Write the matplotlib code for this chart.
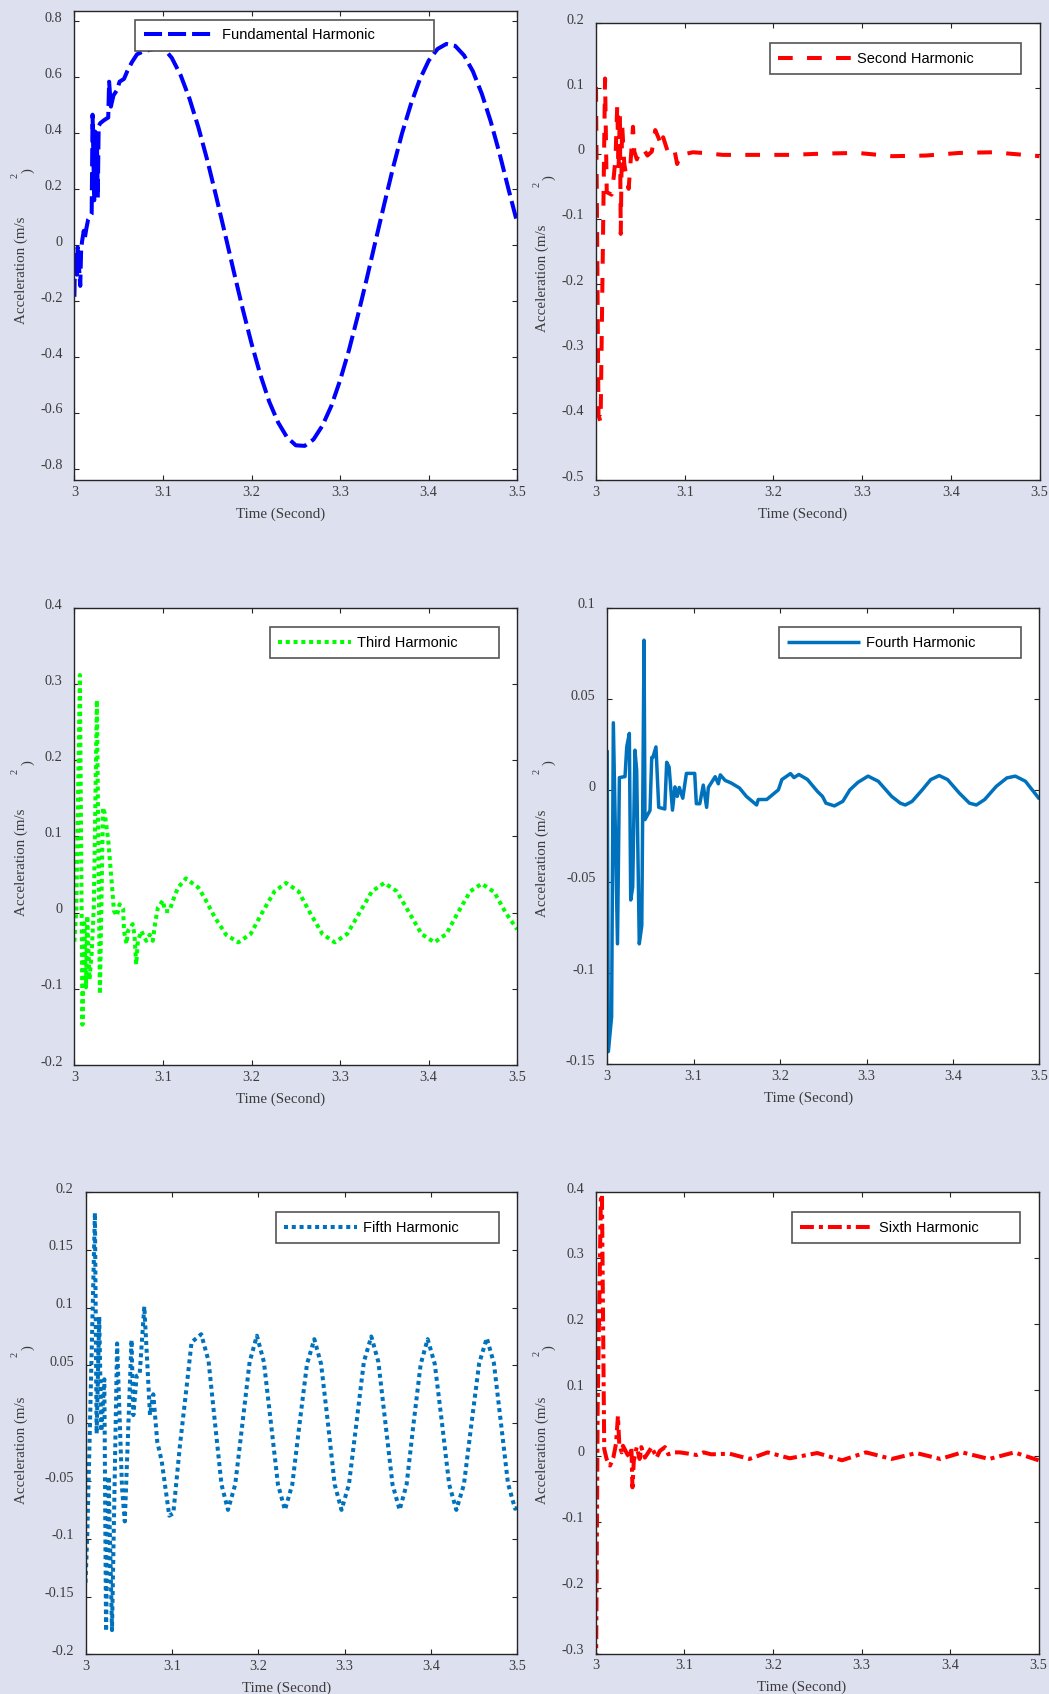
import matplotlib
matplotlib.use("Agg")
import matplotlib.pyplot as plt
import matplotlib.transforms as mtransforms

plt.rcParams['axes.unicode_minus'] = False
plt.rcParams['lines.scale_dashes'] = False

FIG_W, FIG_H, DPI = 1049, 1694, 100
BG = '#dde0ee'
TXT = '#3c3c3c'
SERIF = ['Liberation Serif', 'DejaVu Serif']
SANS = ['Liberation Sans', 'DejaVu Sans']

# ---------------- data ----------------
x_ticks = [3.0, 3.1, 3.2, 3.3, 3.4, 3.5]
x_tick_labels = ['3', '3.1', '3.2', '3.3', '3.4', '3.5']

fund_t = [3.000, 3.0007, 3.0027, 3.0037, 3.0066, 3.0076, 3.0086, 3.0106, 3.0116, 3.0136,
          3.0155, 3.0195, 3.0205, 3.0224, 3.0234, 3.0244, 3.0254, 3.0264, 3.0274, 3.0293,
          3.0333, 3.0382, 3.0392, 3.0412, 3.0441, 3.0481, 3.0510, 3.0560, 3.0599, 3.0648,
          3.0707, 3.0777, 3.088,
          3.10, 3.11, 3.12, 3.13, 3.14, 3.15, 3.16, 3.17, 3.18, 3.19, 3.20, 3.21, 3.22, 3.23,
          3.24, 3.25, 3.26, 3.27, 3.28, 3.29, 3.30, 3.31, 3.32, 3.33, 3.34, 3.35, 3.36, 3.37,
          3.38, 3.39, 3.40, 3.41, 3.42, 3.43, 3.44, 3.45, 3.46, 3.47, 3.48, 3.49, 3.50]
fund_a = [-0.185, -0.037, -0.106, -0.008, -0.146, -0.018, 0.012, 0.051, 0.022, 0.061,
          0.091, 0.111, 0.466, 0.160, 0.406, 0.229, 0.387, 0.170, 0.426, 0.436,
          0.446, 0.456, 0.584, 0.495, 0.535, 0.554, 0.584, 0.594, 0.623, 0.653,
          0.682, 0.692, 0.700,
          0.707, 0.669, 0.607, 0.523, 0.421, 0.304, 0.175, 0.041, -0.095, -0.228, -0.352,
          -0.464, -0.560, -0.634, -0.687, -0.716, -0.718, -0.695, -0.646, -0.576, -0.484,
          -0.376, -0.253, -0.122, 0.014, 0.148, 0.279, 0.400, 0.504, 0.592, 0.659, 0.701,
          0.719, 0.712, 0.678, 0.621, 0.541, 0.443, 0.328, 0.202, 0.080]
fund_yticks = [-0.8, -0.6, -0.4, -0.2, 0.0, 0.2, 0.4, 0.6, 0.8]
fund_ylabels = ['-0.8', '-0.6', '-0.4', '-0.2', '0', '0.2', '0.4', '0.6', '0.8']

second_t = [3.000, 3.0028, 3.0052, 3.0102, 3.0121, 3.0175, 3.0200, 3.0220, 3.0240, 3.0254,
            3.0269, 3.0279, 3.0294, 3.0319, 3.0343, 3.0368, 3.0383, 3.0417, 3.0432, 3.0461,
            3.0501, 3.0540, 3.0580, 3.0629, 3.0668, 3.0708, 3.0738, 3.0757, 3.0797, 3.0826,
            3.0866, 3.0885, 3.0915, 3.0954, 3.1024, 3.1093, 3.120, 3.143, 3.181, 3.219,
            3.257, 3.295, 3.334, 3.372, 3.410, 3.448, 3.500]
second_a = [0.102, -0.401, -0.411, 0.115, -0.059, -0.063, -0.036, -0.007, 0.076, -0.026,
            0.062, -0.123, 0.046, -0.016, -0.036, -0.054, -0.026, 0.041, 0.003, -0.009,
            0.008, 0.006, -0.003, 0.003, 0.036, 0.023, 0.011, 0.025, 0.008, -0.002,
            0.003, 0.005, -0.016, -0.001, 0.000, 0.002, 0.001, -0.002, -0.002, -0.002,
            0.000, 0.001, -0.004, -0.003, 0.001, 0.002, -0.004]
second_yticks = [-0.5, -0.4, -0.3, -0.2, -0.1, 0.0, 0.1, 0.2]
second_ylabels = ['-0.5', '-0.4', '-0.3', '-0.2', '-0.1', '0', '0.1', '0.2']

third_t = [3.000, 3.0022, 3.0062, 3.0091, 3.0111, 3.0131, 3.0145, 3.0170, 3.0195, 3.0219,
           3.0254, 3.0288, 3.0323, 3.0343, 3.0382, 3.0417, 3.0447, 3.0481, 3.0510, 3.0550,
           3.0560, 3.0589, 3.0605, 3.0658, 3.0678, 3.0698, 3.0717, 3.0757, 3.0786, 3.0812,
           3.0850, 3.0885, 3.0915, 3.0944, 3.1000, 3.1023, 3.1072, 3.1132, 3.1171, 3.1260,
           3.1339, 3.1398, 3.1467, 3.1585, 3.1713,
           3.185, 3.199, 3.212, 3.226, 3.239, 3.253, 3.266, 3.280, 3.294,
           3.308, 3.322, 3.336, 3.350, 3.364, 3.378, 3.392, 3.4065, 3.420, 3.433, 3.447,
           3.460, 3.474, 3.487, 3.500]
third_a = [-0.038, 0.006, 0.312, -0.147, -0.014, -0.098, -0.004, -0.088, -0.053, 0.006,
           0.279, -0.107, 0.138, 0.130, 0.095, 0.046, 0.002, -0.004, 0.011, 0.005,
           -0.024, -0.041, -0.024, -0.015, -0.029, -0.068, -0.037, -0.024, -0.032, -0.037,
           -0.029, -0.037, -0.011, 0.007, 0.016, 0.002, 0.002, 0.022, 0.033, 0.045,
           0.038, 0.033, 0.020, -0.006, -0.029,
           -0.039, -0.028, 0.0, 0.028, 0.039, 0.028, 0.0, -0.028, -0.039,
           -0.028, 0.0, 0.028, 0.039, 0.028, 0.0, -0.028, -0.039, -0.028, 0.0, 0.028,
           0.038, 0.027, 0.0, -0.022]
third_yticks = [-0.2, -0.1, 0.0, 0.1, 0.2, 0.3, 0.4]
third_ylabels = ['-0.2', '-0.1', '0', '0.1', '0.2', '0.3', '0.4']

fourth_t = [3.000, 3.0013, 3.0051, 3.0071, 3.0119, 3.0141, 3.0187, 3.0206, 3.0226, 3.0256,
            3.0272, 3.0295, 3.0321, 3.0341, 3.0371, 3.0400, 3.0426, 3.0437, 3.0495, 3.0515,
            3.0528, 3.0564, 3.0596, 3.0666, 3.0688, 3.0716, 3.0755, 3.0784, 3.0810, 3.0834,
            3.0874, 3.0916, 3.1012, 3.1031, 3.1071, 3.1111, 3.1150, 3.1170, 3.1249, 3.1285,
            3.1308, 3.1363, 3.1435, 3.153, 3.161, 3.1728, 3.1747, 3.1845, 3.198, 3.202,
            3.212, 3.216, 3.2217, 3.2315, 3.2432, 3.249, 3.253, 3.2628, 3.2725, 3.2807,
            3.290, 3.3017, 3.3135, 3.329, 3.339, 3.3448, 3.3527, 3.3644, 3.3742, 3.384,
            3.3937, 3.4073, 3.419, 3.427, 3.4366, 3.450, 3.4622, 3.472, 3.4837, 3.500]
fourth_a = [0.022, -0.143, -0.124, 0.037, -0.084, 0.007, 0.0074, 0.0075, 0.0238, 0.0312,
            -0.060, -0.053, 0.022, 0.011, -0.084, -0.074, 0.0822, -0.016, -0.011, 0.018,
            0.018, 0.0238, -0.0093, -0.0102, 0.0154, 0.0128, -0.0108, 0.0019, -0.0033, 0.0016,
            -0.0043, 0.0093, 0.0093, -0.0073, -0.0073, 0.0029, -0.0093, 0.0016, 0.0075, 0.0036,
            0.0085, 0.0055, 0.004, 0.0013, -0.0033, -0.008, -0.005, -0.005, 0.0003, 0.0059,
            0.0092, 0.007, 0.0087, 0.006, -0.0006, -0.0033, -0.007, -0.0085, -0.006, 0.0003,
            0.0044, 0.0078, 0.005, -0.0033, -0.007, -0.008, -0.006, 0.0003, 0.0059, 0.0081,
            0.0059, -0.0015, -0.007, -0.008, -0.005, 0.0022, 0.0068, 0.0078, 0.005, -0.0048]
fourth_yticks = [-0.15, -0.1, -0.05, 0.0, 0.05, 0.1]
fourth_ylabels = ['-0.15', '-0.1', '-0.05', '0', '0.05', '0.1']

fifth_t = [3.000, 3.0021, 3.0050, 3.0109, 3.0129, 3.0159, 3.0183, 3.0218, 3.0238, 3.0267,
           3.0307, 3.0366, 3.0423, 3.0455, 3.0533, 3.0554, 3.0593, 3.0627, 3.0681, 3.0747,
           3.0785, 3.0831, 3.0883, 3.097, 3.1017, 3.1094, 3.1169, 3.1228, 3.134, 3.1425,
           3.150, 3.1575, 3.165, 3.1734, 3.1818, 3.1901, 3.1985, 3.2066, 3.2148, 3.2229,
           3.231, 3.2395, 3.248, 3.2565, 3.265, 3.2729, 3.2808, 3.2886, 3.2965, 3.3051,
           3.3138, 3.3224, 3.331, 3.3392, 3.3474, 3.3556, 3.3638, 3.3719, 3.380, 3.3882,
           3.3963, 3.4046, 3.4129, 3.4212, 3.4295, 3.4383, 3.4471, 3.456, 3.4648, 3.473,
           3.4812, 3.4893, 3.4975, 3.500]
fifth_a = [-0.138, -0.096, -0.007, 0.182, -0.009, 0.092, -0.007, 0.038, -0.180, -0.046,
           -0.179, 0.069, -0.056, -0.085, 0.072, 0.007, 0.041, 0.042, 0.101, 0.007,
           0.025, -0.016, -0.033, -0.080, -0.078, -0.019, 0.030, 0.070, 0.077, 0.054,
           0.0, -0.053, -0.075, -0.053, 0.0, 0.053, 0.0757, 0.053, 0.0, -0.053,
           -0.075, -0.053, 0.0, 0.051, 0.0727, 0.051, 0.0, -0.053, -0.075, -0.053,
           0.0, 0.053, 0.075, 0.053, 0.0, -0.053, -0.075, -0.053, 0.0, 0.051,
           0.0727, 0.051, 0.0, -0.053, -0.075, -0.053, 0.0, 0.052, 0.0736, 0.052,
           0.0, -0.052, -0.074, -0.073]
fifth_yticks = [-0.2, -0.15, -0.1, -0.05, 0.0, 0.05, 0.1, 0.15, 0.2]
fifth_ylabels = ['-0.2', '-0.15', '-0.1', '-0.05', '0', '0.05', '0.1', '0.15', '0.2']

sixth_t = [3.000, 3.0020, 3.0064, 3.0094, 3.0121, 3.0160, 3.0197, 3.0227, 3.0249, 3.0264,
           3.0291, 3.0306, 3.0355, 3.0385, 3.0401, 3.0413, 3.0428, 3.0461, 3.0494, 3.0513,
           3.0553, 3.0592, 3.0630, 3.0686, 3.0721, 3.0780, 3.0818, 3.0879, 3.0948, 3.1048,
           3.1136, 3.1215, 3.1304, 3.151, 3.1735, 3.194, 3.219, 3.250, 3.278, 3.305, 3.334,
           3.362, 3.389, 3.4136, 3.444, 3.4726, 3.500]
sixth_a = [-0.37, 0.074, 0.46, 0.010, -0.005, -0.015, -0.003, 0.018, 0.060, 0.018,
           0.005, 0.015, 0.002, -0.003, 0.013, -0.048, -0.008, 0.013, -0.005, 0.013,
           -0.003, 0.005, 0.013, -0.003, 0.007, 0.013, 0.002, 0.005, 0.005, 0.003,
           0.001, 0.005, 0.002, 0.003, -0.005, 0.005, -0.004, 0.004, -0.007, 0.005, -0.005,
           0.004, -0.005, 0.005, -0.005, 0.005, -0.007]
sixth_yticks = [-0.3, -0.2, -0.1, 0.0, 0.1, 0.2, 0.3, 0.4]
sixth_ylabels = ['-0.3', '-0.2', '-0.1', '0', '0.1', '0.2', '0.3', '0.4']

# ---------------- layout / styles (pixels of the 1049x1694 canvas) ----------------
panels = [
    dict(t=fund_t, a=fund_a, name='Fundamental Harmonic', color='#0000ff',
         ls=(0, (13, 4.3)), lw=2.9, rect=(74.4, 10.8, 517.2, 480.0), ylim=(-0.84, 0.8375),
         yt=fund_yticks, yl=fund_ylabels, leg=(135.2, 19.6, 433.7, 52.4),
         ylab=(21.0, 270.7), sup=(15.2, 175.8), par=(27.9, 170.7)),
    dict(t=second_t, a=second_a, name='Second Harmonic', color='#ff0000',
         ls=(0, (10.6, 10.3)), lw=2.9, rect=(596.0, 23.0, 1039.5, 480.0), ylim=(-0.5, 0.2),
         yt=second_yticks, yl=second_ylabels, leg=(769.5, 43.3, 1021.3, 77.1),
         ylab=(542.0, 278.0), sup=(536.9, 184.2), par=(548.7, 177.5)),
    dict(t=third_t, a=third_a, name='Third Harmonic', color='#00ff00',
         ls=(0, (2.9, 2.7)), lw=2.9, rect=(74.4, 608.0, 517.2, 1065.0), ylim=(-0.2, 0.4),
         yt=third_yticks, yl=third_ylabels, leg=(269.7, 627.3, 498.6, 661.1),
         ylab=(21.0, 862.2), sup=(15.2, 771.0), par=(27.9, 762.5)),
    dict(t=fourth_t, a=fourth_a, name='Fourth Harmonic', color='#0072bd',
         ls='-', lw=2.5, rect=(607.2, 607.7, 1039.5, 1064.4), ylim=(-0.15, 0.1),
         yt=fourth_yticks, yl=fourth_ylabels, leg=(778.9, 627.3, 1021.3, 661.1),
         ylab=(542.0, 863.1), sup=(536.9, 771.0), par=(548.7, 762.5)),
    dict(t=fifth_t, a=fifth_a, name='Fifth Harmonic', color='#0072bd',
         ls=(0, (2.9, 2.7)), lw=2.9, rect=(85.5, 1192.0, 517.2, 1654.4), ylim=(-0.2, 0.2),
         yt=fifth_yticks, yl=fifth_ylabels, leg=(275.5, 1212.3, 498.6, 1246.1),
         ylab=(21.0, 1450.6), sup=(15.2, 1354.2), par=(27.9, 1347.5)),
    dict(t=sixth_t, a=sixth_a, name='Sixth Harmonic', color='#ff0000',
         ls=(0, (10, 3.6, 2.9, 3.6)), lw=2.9, rect=(595.9, 1191.9, 1038.6, 1653.5),
         ylim=(-0.3, 0.4), yt=sixth_yticks, yl=sixth_ylabels,
         leg=(791.6, 1212.2, 1020.3, 1245.9),
         ylab=(541.9, 1450.0), sup=(536.9, 1353.9), par=(548.7, 1347.1)),
]


def fbox(l, t, r, b):
    return (l / FIG_W, 1 - b / FIG_H, (r - l) / FIG_W, (b - t) / FIG_H)


fig = plt.figure(figsize=(FIG_W / DPI, FIG_H / DPI), dpi=DPI, facecolor=BG)

for p in panels:
    l, t, r, b = p['rect']
    ax = fig.add_axes(fbox(l, t, r, b))
    ax.set_facecolor('white')
    line, = ax.plot(p['t'], p['a'], color=p['color'], lw=p['lw'], linestyle=p['ls'],
                    solid_joinstyle='round', solid_capstyle='butt')
    ax.set_xlim(3.0, 3.5)
    ax.set_ylim(*p['ylim'])
    ax.set_xticks(x_ticks)
    ax.set_xticklabels(x_tick_labels, family=SERIF, fontsize=10.3, color=TXT)
    ax.set_yticks(p['yt'])
    ax.set_yticklabels(p['yl'], family=SERIF, fontsize=10.3, color=TXT)
    ax.tick_params(direction='in', length=3.6, width=0.8, color='#262626',
                   top=True, right=True)
    ax.tick_params(axis='y', pad=8.5)
    ax.tick_params(axis='x', pad=4.0)
    for s in ax.spines.values():
        s.set_color('#262626')
        s.set_linewidth(1.0)
    off = mtransforms.ScaledTranslation(0, 4.4 / DPI, fig.dpi_scale_trans)
    for lab in ax.get_yticklabels():
        lab.set_transform(lab.get_transform() + off)

    h = b - t
    w = r - l
    ax.set_xlabel('Time (Second)', family=SERIF, fontsize=10.8, color=TXT, va='center')
    ax.xaxis.set_label_coords(0.5 - 15.2 / w, -33.8 / h)

    lg = ax.legend(handles=[line], labels=[p['name']], loc='upper left',
                   bbox_to_anchor=fbox(*p['leg']), bbox_transform=fig.transFigure,
                   mode='expand', borderaxespad=0, borderpad=0.58, handlelength=4.98,
                   handletextpad=0.42, fancybox=False, framealpha=1,
                   edgecolor='#555555', prop={'family': SANS, 'size': 10.5})
    lg.get_frame().set_linewidth(1.2)

    fig.text(p['ylab'][0] / FIG_W, 1 - p['ylab'][1] / FIG_H, 'Acceleration (m/s',
             rotation=90, ha='center', va='center', family=SERIF, fontsize=10.8, color=TXT)
    fig.text(p['sup'][0] / FIG_W, 1 - p['sup'][1] / FIG_H, '2',
             rotation=90, ha='center', va='center', family=SERIF, fontsize=7.5, color=TXT)
    fig.text(p['par'][0] / FIG_W, 1 - p['par'][1] / FIG_H, ')',
             rotation=90, ha='center', va='center', family=SERIF, fontsize=10.8, color=TXT)

fig.savefig('out.png', dpi=DPI, facecolor=BG)
